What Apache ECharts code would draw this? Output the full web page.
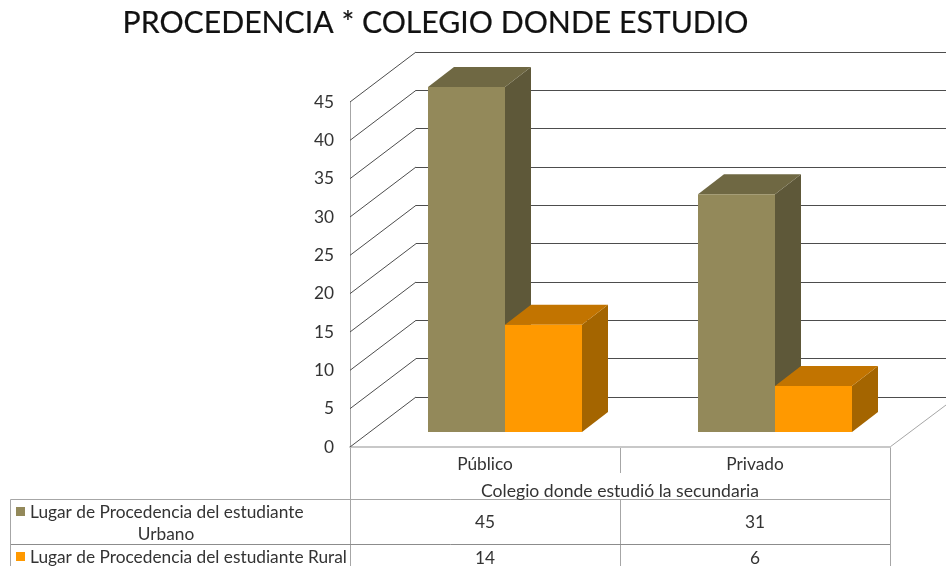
<!DOCTYPE html>
<html>
<head>
<meta charset="utf-8">
<style>html,body{margin:0;padding:0;background:#fff}#c{width:946px;height:566px}</style>
<script src="https://cdn.jsdelivr.net/npm/echarts@6/dist/echarts.min.js"></script>
</head>
<body>
<div id="c"></div>
<script>
const titleText = 'PROCEDENCIA * COLEGIO DONDE ESTUDIO';
const categories = ['Público', 'Privado'];
const axisTitle = 'Colegio donde estudió la secundaria';
const urbano = [45, 31];
const rural = [14, 6];
const ticks = [0, 5, 10, 15, 20, 25, 30, 35, 40, 45];
const urbanoLabel = ['Lugar de Procedencia del estudiante', 'Urbano'];
const ruralLabel = 'Lugar de Procedencia del estudiante Rural';

const FONT = 'Lato';
const TXT = '#333333';
const LINE = '#a6a6a6';
const DX = 26, DY = 20, BAR_W = 77, SHIFT_X = 20, SHIFT_Y = 15;

function bar(side, colors) {
  return function (params, api) {
    const p = api.coord([api.value(0), api.value(1)]);
    const b = api.coord([api.value(0), 0]);
    const x0 = p[0] + SHIFT_X + (side === 0 ? -BAR_W : 0);
    const x1 = x0 + BAR_W;
    const yt = p[1] - SHIFT_Y, yb = b[1] - SHIFT_Y;
    return {
      type: 'group',
      children: [
        { type: 'polygon', shape: { points: [[x1, yt], [x1 + DX, yt - DY], [x1 + DX, yb - DY], [x1, yb]] }, style: { fill: colors.side } },
        { type: 'polygon', shape: { points: [[x0, yt], [x0 + DX, yt - DY], [x1 + DX, yt - DY], [x1, yt]] }, style: { fill: colors.top } },
        { type: 'rect', shape: { x: x0, y: yt, width: BAR_W, height: yb - yt }, style: { fill: colors.front } }
      ]
    };
  };
}

function text(x, y, s, size, align, color) {
  return { type: 'text', x: x, y: y, silent: true, style: { text: s, font: size + 'px ' + FONT, fill: color || TXT, textAlign: align || 'center', textVerticalAlign: 'middle' } };
}
function seg(x1, y1, x2, y2, w, c) {
  return { type: 'line', silent: true, shape: { x1: x1, y1: y1, x2: x2, y2: y2 }, style: { stroke: c || LINE, lineWidth: w || 1 } };
}

const titleEl = text(435.5, 23, titleText, 30.2, 'center', '#111111');
titleEl.style.stroke = '#111111';
titleEl.style.lineWidth = 0.2;

const graphics = [
  titleEl,
  seg(350.5, 447, 350.5, 566),
  seg(620.5, 447, 620.5, 473),
  seg(620.5, 500, 620.5, 566),
  seg(890.5, 447, 890.5, 566),
  seg(10.5, 499.5, 890, 499.5),
  seg(10.5, 544.5, 890, 544.5, 1, '#8c8c8c'),
  seg(10.5, 499.5, 10.5, 566),
  seg(890, 447, 946, 405),
  { type: 'rect', silent: true, shape: { x: 16, y: 507, width: 9, height: 9 }, style: { fill: '#93895a' } },
  { type: 'rect', silent: true, shape: { x: 16, y: 552, width: 9, height: 9 }, style: { fill: '#ff9900' } },
  text(30, 512, urbanoLabel[0], 17.3, 'left'),
  text(166, 534, urbanoLabel[1], 17.3, 'center'),
  text(30, 557, ruralLabel, 17.3, 'left')
];
categories.forEach(function (c, i) {
  const cx = 485 + i * 270;
  graphics.push(text(cx, 522, String(urbano[i]), 17.3));
  graphics.push(text(cx, 558, String(rural[i]), 17.3));
});

const chart = echarts.init(document.getElementById('c'), null, { renderer: 'canvas' });
chart.setOption({
  animation: false,
  backgroundColor: '#ffffff',
  grid: [
    { left: 350, top: 102, width: 540, height: 345, containLabel: false },
    { left: 416, top: 52, width: 530, height: 345, containLabel: false }
  ],
  xAxis: [
    {
      type: 'category', gridIndex: 0, data: categories,
      axisLine: { show: true, lineStyle: { color: '#c8c8c8', width: 2 } },
      axisTick: { show: false },
      axisLabel: { color: TXT, fontFamily: FONT, fontSize: 17.3, margin: 9 },
      name: axisTitle, nameLocation: 'middle', nameGap: 35,
      nameTextStyle: { color: TXT, fontFamily: FONT, fontSize: 17.6 }
    },
    { type: 'value', gridIndex: 1, min: 0, max: 1, show: false }
  ],
  yAxis: [
    {
      type: 'value', gridIndex: 0, min: 0, max: 45, interval: 5,
      axisLine: { show: true, lineStyle: { color: LINE, width: 1 } },
      axisTick: { show: false },
      splitLine: { show: false },
      axisLabel: { color: TXT, fontFamily: FONT, fontSize: 17.3, margin: 16, padding: [8, 0, 0, 0] }
    },
    {
      type: 'value', gridIndex: 1, min: 0, max: 45, interval: 5,
      axisLine: { show: false }, axisTick: { show: false }, axisLabel: { show: false },
      splitLine: { show: true, lineStyle: { color: '#4d4d4d', width: 1 } }
    }
  ],
  graphic: graphics,
  series: [
    {
      type: 'custom', xAxisIndex: 0, yAxisIndex: 0, clip: false, silent: true, z: 1,
      data: ticks.map(function (t) { return [t]; }),
      encode: { y: 0 },
      renderItem: function (params, api) {
        const p = api.coord([0, api.value(0)]);
        const x = 350;
        return { type: 'line', shape: { x1: x, y1: p[1], x2: x + 66, y2: p[1] - 50 }, style: { stroke: '#4d4d4d', lineWidth: 1 } };
      }
    },
    {
      name: 'Urbano', type: 'custom', xAxisIndex: 0, yAxisIndex: 0, clip: false, silent: true, z: 3,
      data: urbano.map(function (v, i) { return [i, v]; }),
      encode: { x: 0, y: 1 },
      renderItem: bar(0, { front: '#93895a', top: '#6f6843', side: '#5e5839' })
    },
    {
      name: 'Rural', type: 'custom', xAxisIndex: 0, yAxisIndex: 0, clip: false, silent: true, z: 4,
      data: rural.map(function (v, i) { return [i, v]; }),
      encode: { x: 0, y: 1 },
      renderItem: bar(1, { front: '#ff9900', top: '#c27400', side: '#a46500' })
    }
  ]
});
</script>
</body>
</html>
